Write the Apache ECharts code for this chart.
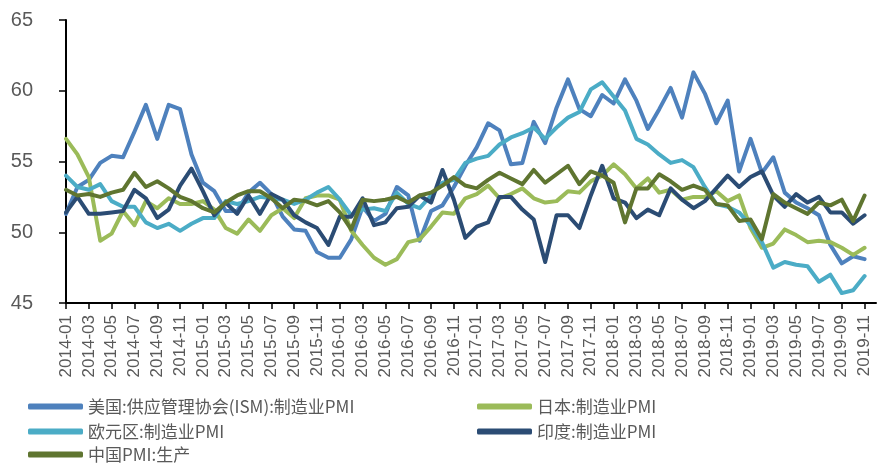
<!DOCTYPE html>
<html>
<head>
<meta charset="utf-8">
<script src="https://cdn.jsdelivr.net/npm/echarts@6/dist/echarts.min.js"></script>
<style>
html,body{margin:0;padding:0;background:#fff;}
#chart{width:890px;height:466px;}
</style>
</head>
<body>
<div id="chart"></div>
<script>
var categories = [
'2014-01','2014-02','2014-03','2014-04','2014-05','2014-06','2014-07','2014-08','2014-09','2014-10','2014-11','2014-12',
'2015-01','2015-02','2015-03','2015-04','2015-05','2015-06','2015-07','2015-08','2015-09','2015-10','2015-11','2015-12',
'2016-01','2016-02','2016-03','2016-04','2016-05','2016-06','2016-07','2016-08','2016-09','2016-10','2016-11','2016-12',
'2017-01','2017-02','2017-03','2017-04','2017-05','2017-06','2017-07','2017-08','2017-09','2017-10','2017-11','2017-12',
'2018-01','2018-02','2018-03','2018-04','2018-05','2018-06','2018-07','2018-08','2018-09','2018-10','2018-11','2018-12',
'2019-01','2019-02','2019-03','2019-04','2019-05','2019-06','2019-07','2019-08','2019-09','2019-10','2019-11','2019-12'
];

var usISM = [
51.3,53.2,53.7,54.9,55.4,55.3,57.1,59.0,56.6,59.0,58.7,55.5,
53.5,52.9,51.5,51.5,52.8,53.5,52.7,51.1,50.2,50.1,48.6,48.2,
48.2,49.5,51.8,50.8,51.3,53.2,52.6,49.4,51.5,51.9,53.2,54.7,
56.0,57.7,57.2,54.8,54.9,57.8,56.3,58.8,60.8,58.7,58.2,59.7,
59.1,60.8,59.3,57.3,58.7,60.2,58.1,61.3,59.8,57.7,59.3,54.3,
56.6,54.2,55.3,52.8,52.1,51.7,51.2,49.1,47.8,48.3,48.1,null
];

var japanPMI = [
56.6,55.5,53.9,49.4,49.9,51.5,50.5,52.2,51.7,52.4,52.0,52.0,
52.2,51.6,50.3,49.9,50.9,50.1,51.2,51.7,51.0,52.4,52.6,52.6,
52.3,50.1,49.1,48.2,47.7,48.1,49.3,49.5,50.4,51.4,51.3,52.4,
52.7,53.3,52.4,52.7,53.1,52.4,52.1,52.2,52.9,52.8,53.6,54.0,
54.8,54.1,53.1,53.8,52.8,53.0,52.3,52.5,52.5,52.9,52.2,52.6,
50.3,48.9,49.2,50.2,49.8,49.3,49.4,49.3,48.9,48.4,48.9,null
];

var euroPMI = [
54.0,53.2,53.0,53.4,52.2,51.8,51.8,50.7,50.3,50.6,50.1,50.6,
51.0,51.0,52.2,52.0,52.2,52.5,52.4,52.3,52.0,52.3,52.8,53.2,
52.3,51.2,51.6,51.7,51.5,52.8,52.0,51.7,52.6,53.5,53.7,54.9,
55.2,55.4,56.2,56.7,57.0,57.4,56.6,57.4,58.1,58.5,60.1,60.6,
59.6,58.6,56.6,56.2,55.5,54.9,55.1,54.6,53.2,52.0,51.8,51.4,
50.5,49.3,47.5,47.9,47.7,47.6,46.5,47.0,45.7,45.9,46.9,null
];

var indiaPMI = [
51.4,52.5,51.3,51.3,51.4,51.5,53.0,52.4,51.0,51.6,53.3,54.5,
52.9,51.2,52.1,51.3,52.6,51.3,52.7,52.3,51.2,50.7,50.3,49.1,
51.1,51.1,52.4,50.5,50.7,51.7,51.8,52.6,52.1,54.4,52.3,49.6,
50.4,50.7,52.5,52.5,51.6,50.9,47.9,51.2,51.2,50.3,52.6,54.7,
52.4,52.1,51.0,51.6,51.2,53.1,52.3,51.7,52.2,53.1,54.0,53.2,
53.9,54.3,52.6,51.8,52.7,52.1,52.5,51.4,51.4,50.6,51.2,null
];

var chinaProd = [
53.0,52.6,52.7,52.5,52.8,53.0,54.2,53.2,53.6,53.1,52.5,52.2,
51.7,51.4,52.1,52.6,52.9,52.9,52.4,51.7,52.3,52.2,51.9,52.2,
51.4,50.2,52.3,52.2,52.3,52.5,52.1,52.6,52.8,53.3,53.9,53.3,
53.1,53.7,54.2,53.8,53.4,54.4,53.5,54.1,54.7,53.4,54.3,54.0,
53.5,50.7,53.1,53.1,54.1,53.6,53.0,53.3,53.0,52.0,51.9,50.8,
50.9,49.5,52.7,52.1,51.7,51.3,52.1,51.9,52.3,50.8,52.6,null
];

var seriesNames = ['美国:供应管理协会(ISM):制造业PMI','日本:制造业PMI','欧元区:制造业PMI','印度:制造业PMI','中国PMI:生产'];
var seriesColors = ['#4E81BD','#9BBB59','#4BACC6','#2B4C74','#5F7530'];
var seriesData = [usISM, japanPMI, euroPMI, indiaPMI, chinaProd];

var chart = echarts.init(document.getElementById('chart'));

var series = seriesData.map(function(d, i){
  return {
    name: seriesNames[i],
    type: 'line',
    data: d,
    symbol: 'none',
    smooth: false,
    connectNulls: false,
    animation: false,
    lineStyle: { width: 4, color: seriesColors[i], cap: 'round', join: 'round' },
    itemStyle: { color: seriesColors[i] }
  };
});

var legendText = { fontSize: 17, color: '#595959', fontFamily: '"Noto Sans CJK SC", sans-serif' };
// legend slot per series: [left, top]
var legendPos = [[28, 398], [477, 398], [28, 423], [477, 423], [28, 446]];
var legends = seriesNames.map(function(n, i){
  return {
    data: [n], left: legendPos[i][0], top: legendPos[i][1],
    itemWidth: 55, itemHeight: 6, icon: 'roundRect',
    textStyle: legendText, selectedMode: false, padding: 0
  };
});

chart.setOption({
  backgroundColor: '#fff',
  animation: false,
  grid: { left: 66, right: 14, top: 20, bottom: 163, containLabel: false },
  legend: legends,
  xAxis: {
    type: 'category',
    data: categories,
    boundaryGap: false,
    axisLine: { show: true, lineStyle: { color: '#000', width: 2 } },
    axisTick: { show: true, interval: 1, length: 6, inside: false, lineStyle: { color: '#000', width: 1.5 } },
    axisLabel: { interval: 1, rotate: 90, margin: 12, fontSize: 17, color: '#595959', fontFamily: '"Liberation Sans", Arial, sans-serif' },
    splitLine: { show: false }
  },
  yAxis: {
    type: 'value',
    min: 45, max: 65, interval: 5,
    axisLine: { show: true, lineStyle: { color: '#000', width: 2 } },
    axisTick: { show: true, length: 7, inside: false, lineStyle: { color: '#000', width: 1.5 } },
    axisLabel: { margin: 33, fontSize: 20, color: '#595959', fontFamily: '"Liberation Sans", Arial, sans-serif' },
    splitLine: { show: false }
  },
  series: series
});
</script>
</body>
</html>
